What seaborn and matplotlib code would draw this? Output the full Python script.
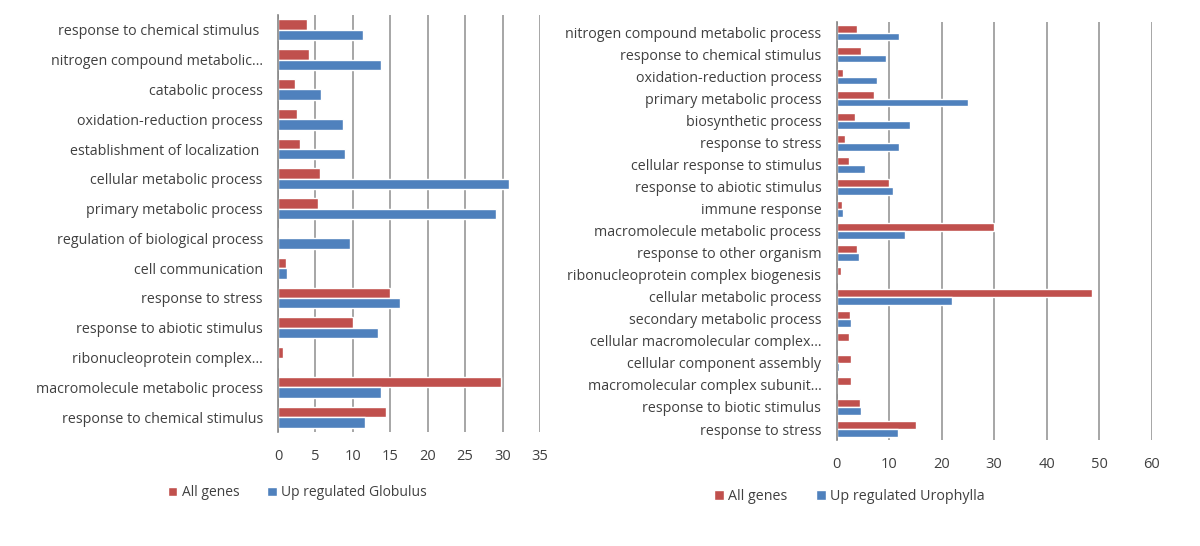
"""GO term comparison: all genes vs up-regulated genes (Globulus / Urophylla)."""

import matplotlib
matplotlib.use("Agg")
import matplotlib.pyplot as plt
import pandas as pd
import seaborn as sns

sns.set_theme(style="white")
plt.rcParams["font.family"] = ["Open Sans", "DejaVu Sans"]

RED = "#C0504D"
BLUE = "#4F81BD"
TEXT = "#404040"
GRID = "#A6A6A6"

# ---------------------------------------------------------------------------
# Data (percent of genes per GO term), listed top to bottom
# ---------------------------------------------------------------------------

left_terms = [
    "response to chemical stimulus ",
    "nitrogen compound metabolic\u2026",
    "catabolic process",
    "oxidation-reduction process",
    "establishment of localization ",
    "cellular metabolic process",
    "primary metabolic process",
    "regulation of biological process",
    "cell communication",
    "response to stress",
    "response to abiotic stimulus",
    "ribonucleoprotein complex\u2026",
    "macromolecule metabolic process",
    "response to chemical stimulus",
]
left_all = [3.9, 4.1, 2.3, 2.6, 2.9, 5.6, 5.3, 0.1, 1.1, 15.0, 10.0, 0.7, 29.8, 14.4]
left_up = [11.4, 13.7, 5.7, 8.7, 8.9, 30.8, 29.1, 9.6, 1.2, 16.3, 13.4, 0.0, 13.8, 11.6]
left_series = ["All genes", "Up regulated Globulus"]

right_terms = [
    "nitrogen compound metabolic process",
    "response to chemical stimulus",
    "oxidation-reduction process",
    "primary metabolic process",
    "biosynthetic process",
    "response to stress",
    "cellular response to stimulus",
    "response to abiotic stimulus",
    "immune response",
    "macromolecule metabolic process",
    "response to other organism",
    "ribonucleoprotein complex biogenesis",
    "cellular metabolic process",
    "secondary metabolic process",
    "cellular macromolecular complex\u2026",
    "cellular component assembly",
    "macromolecular complex subunit\u2026",
    "response to biotic stimulus",
    "response to stress",
]
right_all = [3.9, 4.6, 1.3, 7.2, 3.5, 1.6, 2.3, 10.0, 1.0, 30.0,
             3.9, 0.8, 48.7, 2.5, 2.3, 2.7, 2.7, 4.4, 15.1]
right_up = [11.9, 9.4, 7.7, 25.1, 14.0, 11.9, 5.4, 10.8, 1.3, 13.0,
            4.2, 0.0, 22.0, 2.7, 0.3, 0.5, 0.3, 4.7, 11.7]
right_series = ["All genes", "Up regulated Urophylla"]

left_ticks = [0, 5, 10, 15, 20, 25, 30, 35]
right_ticks = [0, 10, 20, 30, 40, 50, 60]


def _long(terms, all_vals, up_vals, series):
    rows = []
    for i, term in enumerate(terms):
        rows.append({"row": i, "series": series[0], "value": all_vals[i]})
        rows.append({"row": i, "series": series[1], "value": up_vals[i]})
    return pd.DataFrame(rows)


def draw_panel(ax, terms, all_vals, up_vals, series, ticks,
               legend_x, legend_y, legend_size):
    df = _long(terms, all_vals, up_vals, series)
    sns.barplot(
        data=df,
        x="value",
        y="row",
        hue="series",
        hue_order=series,
        orient="h",
        palette=[RED, BLUE],
        width=0.7,
        saturation=1,
        ax=ax,
    )
    ax.set_yticks(range(len(terms)))
    ax.set_yticklabels(terms, fontsize=10.3, color=TEXT)
    ax.set_ylim(len(terms) - 0.5, -0.5)
    ax.set_xlim(ticks[0], ticks[-1])
    ax.set_xticks(ticks)
    ax.set_xticklabels([str(t) for t in ticks], fontsize=10.5, color=TEXT)
    ax.tick_params(axis="x", length=0, pad=12)
    ax.tick_params(axis="y", length=0, pad=11)
    ax.set_xlabel("")
    ax.set_ylabel("")
    ax.xaxis.grid(True, color=GRID, linewidth=1.4)
    ax.yaxis.grid(False)
    ax.set_axisbelow(True)
    for side in ["top", "right", "bottom"]:
        ax.spines[side].set_visible(False)
    ax.spines["left"].set_color("#868686")
    ax.spines["left"].set_linewidth(1.2)
    sns.move_legend(
        ax,
        "center",
        bbox_to_anchor=(legend_x, legend_y),
        ncol=2,
        frameon=False,
        title=None,
        fontsize=legend_size,
        handlelength=0.7,
        handleheight=0.7,
        handletextpad=0.3,
        columnspacing=2.0,
    )
    for txt in ax.get_legend().get_texts():
        txt.set_color(TEXT)


fig = plt.figure(figsize=(12, 5.46), dpi=100)
ax_left = fig.add_axes([0.2317, 0.2088, 0.2183, 0.7637])
ax_right = fig.add_axes([0.6972, 0.1941, 0.2625, 0.7661])

draw_panel(ax_left, left_terms, left_all, left_up, left_series,
           left_ticks, 0.073, -0.146, 10)
draw_panel(ax_right, right_terms, right_all, right_up, right_series,
           right_ticks, 0.04, -0.136, 10.3)

fig.savefig("out.png", dpi=100)
plt.close(fig)
